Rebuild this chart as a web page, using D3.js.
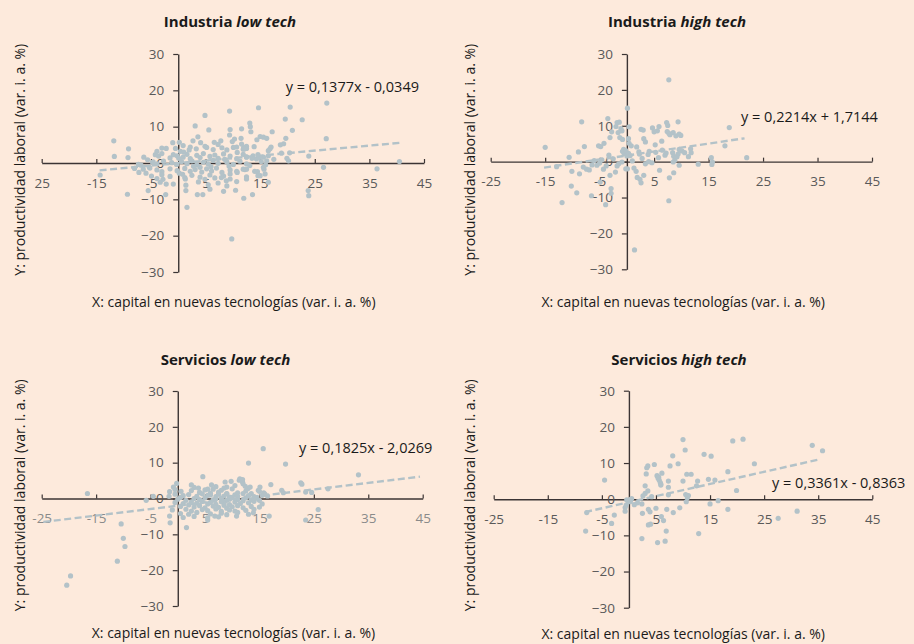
<!DOCTYPE html>
<html>
<head>
<meta charset="utf-8">
<script src="https://cdn.jsdelivr.net/npm/d3@7"></script>
<style>
  body { margin: 0; background: #fdeadc; }
  svg { display: block; }
</style>
</head>
<body>
<svg id="chart" width="914" height="644"></svg>
<script>
// ---- data ----
const xTicks = [-25, -15, -5, 5, 15, 25, 35, 45];
const yTicks = [-30, -20, -10, 0, 10, 20, 30];
const xTickLabels = [
  ["25", "-15", "-5", "5", "15", "25", "35", "45"],
  ["-25", "-15", "-5", "5", "15", "25", "35", "45"],
  ["-25", "-15", "-5", "5", "15", "25", "35", "45"],
  ["-25", "-15", "-5", "5", "15", "25", "35", "45"]
];
const sectors = ["Industria", "Industria", "Servicios", "Servicios"];
const techLevels = ["low tech", "high tech", "low tech", "high tech"];
const equations = ["y = 0,1377x - 0,0349", "y = 0,2214x + 1,7144", "y = 0,1825x - 2,0269", "y = 0,3361x - 0,8363"];
const slopes = [0.1377, 0.2214, 0.1825, 0.3361];
const intercepts = [-0.0349, 1.7144, -2.0269, -0.8363];
const trendFrom = [-14.4, -15.2, -24.7, -8.1];
const trendTo = [40.6, 21.6, 44.5, 35.4];
const xTitle = "X: capital en nuevas tecnologías (var. i. a. %)";
const yTitle = "Y: productividad laboral (var. i. a. %)";

const industriaLow = [
  [-14.3,-3.3],[-11.8,6.1],[-11.7,1.8],[-9.1,3.9],[-9.2,1.5],[-9.3,-8.6],[-7.3,-0.4],[-7.2,-2.6],[-6.3,1.6],
  [-6.4,-1.7],[-5.5,-7.6],[-5.3,-1.1],[-4.7,0.2],[-2.3,-8.7],[-8.0,-1.5],[-6.8,-0.6],[-5.9,-2.8],[-5.6,0.9],
  [-4.2,2.3],[-2.8,-4.5],[-2.2,-5.8],
  [-3.9,3.2],[-3.0,4.1],[-2.2,4.0],[-1.0,5.6],[0.2,5.7],[0.9,4.8],[2.2,4.4],[3.3,3.9],[4.9,4.6],[5.2,4.3],
  [6.4,3.7],[7.3,5.1],[8.0,4.2],[8.9,3.6],[10.7,4.4],[11.9,3.8],[12.5,4.6],
  [-3.6,1.9],[-3.0,2.6],[-1.5,1.4],[-0.9,2.3],[-0.2,2.0],[0.9,1.6],[1.6,2.4],[2.2,1.2],[3.4,2.1],[4.0,1.5],
  [4.6,2.6],[5.8,1.8],[6.7,2.2],[7.3,1.3],[8.3,2.5],[9.5,1.9],[10.7,1.2],[11.9,2.4],[12.5,1.7],
  [-4.6,0.3],[-3.9,-0.2],[-2.7,0.5],[-1.2,0.1],[-0.3,-0.4],[0.6,0.4],[1.6,-0.2],[2.5,0.6],[3.4,-0.5],[4.6,0.2],
  [5.5,-0.3],[6.4,0.7],[7.3,-0.1],[8.9,0.3],[10.1,-0.4],[11.3,0.5],[12.5,-0.2],
  [-5.2,-1.4],[-3.9,-1.9],[-3.0,-2.4],[-1.5,-1.6],[-0.2,-2.1],[1.2,-1.5],[2.2,-2.3],[3.1,-1.8],[4.3,-2.5],
  [5.2,-1.6],[6.1,-2.2],[7.0,-1.4],[8.0,-2.6],[9.5,-1.9],[10.7,-2.3],[12.2,-1.8],
  [-4.9,-3.6],[-3.9,-4.3],[-3.0,-3.2],[-1.5,-3.7],[1.2,-4.0],[2.5,-3.4],[4.0,-3.9],[4.9,-4.5],[5.8,-3.3],
  [6.7,-4.1],[8.3,-3.6],[9.5,-4.4],[12.5,-3.8],
  [-3.3,-5.3],[-0.9,-5.8],[3.7,-5.2],[5.5,-6.0],[7.3,-5.5],[8.9,-6.3],[10.7,-5.1],
  [3.1,10.2],[3.6,7.2],[2.7,6.1],[4.9,13.1],[5.6,9.1],[9.4,14.3],[9.5,9.2],[9.4,7.7],[11.6,9.4],[11.5,6.8],
  [13.1,11.0],[13.2,10.0],[13.3,8.6],[14.7,15.2],[15.0,7.3],[15.6,7.1],[16.2,6.8],[14.4,6.4],[17.2,8.6],
  [19.6,12.1],[20.5,15.4],[20.9,9.0],[22.7,11.9],[19.7,6.8],[18.7,5.0],[19.3,5.3],[27.2,16.5],[27.1,6.7],
  [12.0,4.3],[12.5,4.0],[16.8,3.9],[16.5,3.4],[20.4,2.8],[18.9,2.7],[19.9,1.3],[20.2,0.6],[23.9,1.9],
  [1.3,-4.4],[1.4,-6.1],[1.4,-7.6],[1.6,-12.2],[3.5,-8.7],[4.5,-8.7],[5.8,-7.2],[8.3,-7.8],[9.8,-20.9],
  [10.5,-7.5],[12.0,-9.7],[13.6,-8.7],[23.8,-7.6],[23.9,-9.0],[26.6,-1.2],[36.4,-1.6],[40.5,0.4],
  [12.5,-1.7],[12.5,-4.4],[14.5,-2.4],[15.0,-3.5],[15.7,-1.7],[16.5,-5.3],
  [10.1,4.3],[10.8,2.9],[11.6,5.2],[12.2,3.9],[12.5,1.6],[13.7,2.0],[14.3,1.1],[14.6,2.3],[15.6,1.6],
  [16.2,0.6],[16.5,2.0],[10.8,-2.6],[11.9,-1.7],[13.1,-0.7],[14.0,-2.3],[14.6,-3.5],[15.6,-1.2],[15.9,-3.0],
  [9.5,-3.0],[8.8,-4.9],[7.9,-4.0],[14.8,1.5],[15.2,0.4],[13.5,1.3],[17.5,1.0],[16.0,-0.5],[0.4,3.2],
  [1.0,3.0],[-0.5,4.0],[2.0,3.6],[0.2,-2.8],[0.8,-3.1],[7.8,6.1],[6.6,5.7],[4.1,5.6],[9.9,5.9],[8.5,1.0],
  [9.3,-0.8],[6.0,-1.0],[4.0,-1.2],[2.8,-0.9],[0.1,1.3],[10.3,6.6],[13.9,4.5],[17.0,4.4]
];

const industriaHigh = [
  [7.7,22.8],[0.1,14.9],[-15.0,4.0],[-8.3,11.1],[-11.9,-11.4],[-10.2,-6.8],[-9.2,-8.7],[-6.5,-9.5],[-3.9,-12.0],
  [-2.9,-7.5],[-2.9,-8.8],[1.4,-24.6],[7.7,-10.9],[-10.6,1.2],[-8.9,2.7],[-7.8,4.2],[-12.9,-1.4],[-10.1,-2.7],
  [-8.7,-3.4],[-8.0,-1.5],[-7.4,-2.1],[-6.9,-2.3],[-6.4,-0.9],[-6.0,0.3],[-5.2,4.4],[-4.8,4.2],[-4.2,5.1],
  [-4.9,-5.7],[-4.3,-2.1],[-3.8,-1.2],[-3.5,12.0],[-3.1,-3.8],[-3.1,6.7],[-2.8,8.3],[-2.0,9.8],[-1.8,10.9],
  [-1.4,11.0],[-1.6,8.1],[-1.3,6.7],[-0.8,6.2],[-1.1,9.2],[-0.9,8.6],[-2.1,-2.9],[-1.8,-1.2],[-0.9,-0.1],
  [-0.5,2.5],[-0.6,3.4],[-0.3,3.0],[0.4,9.7],[0.3,6.4],[0.4,5.1],[-0.2,-2.0],[0.1,-2.0],[-0.8,2.9],[-0.5,2.3],
  [-0.2,3.1],[0.0,1.6],[0.3,2.3],[0.6,1.7],[0.8,4.4],[1.3,-1.8],[1.7,-2.7],[1.9,-4.4],[2.4,-4.9],[2.6,-5.9],
  [2.2,2.7],[2.3,2.1],[2.6,9.0],[3.0,8.8],[3.1,6.4],[3.4,5.5],[3.1,-3.8],[3.4,-0.6],[3.9,2.0],[4.1,2.9],
  [4.6,-0.3],[4.7,9.4],[5.0,8.3],[5.9,9.8],[5.6,8.6],[5.2,4.7],[5.8,1.1],[6.0,-2.4],[6.4,5.7],[7.0,1.8],
  [7.3,10.9],[7.5,10.1],[7.4,8.4],[7.7,7.9],[7.9,7.5],[7.8,-4.5],[8.5,8.1],[9.0,7.2],[9.4,11.1],[9.6,7.7],
  [9.9,7.3],[8.4,2.5],[8.6,1.5],[8.8,0.4],[9.2,1.4],[9.4,2.1],[9.6,3.4],[10.1,3.0],[10.6,2.5],[8.5,-0.1],
  [8.6,-3.1],[9.6,-1.0],[11.7,3.6],[11.8,2.5],[11.3,1.4],[13.1,-0.7],[15.5,1.1],[15.7,-0.1],[15.6,-0.8],
  [18.0,4.4],[18.8,9.5],[22.0,1.1],[-5.5,-1.0],[-5.0,-0.4],[-4.6,0.5],[-2.5,0.8],[-1.5,-0.6],[1.0,0.2],
  [2.8,0.9],[4.0,0.0],[-3.3,1.8],[1.8,4.1],[6.5,3.2],[7.2,2.4],[5.3,2.6]
];

const serviciosLow = [
  [-16.6,1.4],[-5.8,-0.5],[-4.5,0.6],[-10.4,-7.1],[-10.0,-11.1],[-9.7,-13.4],[-11.1,-17.5],[-19.7,-21.6],
  [-20.4,-24.2],[-1.4,-6.8],[-1.6,0.6],[-0.2,4.2],[-0.5,2.5],[1.6,-8.1],[4.6,6.1],[5.5,-6.0],[15.7,13.9],
  [13.0,9.9],[19.8,9.6],[33.2,6.6],[11.4,5.5],[11.9,4.6],[8.7,4.6],[9.0,3.2],[22.6,4.4],[22.8,4.0],[17.1,3.9],
  [19.1,2.3],[19.4,1.6],[23.5,1.8],[24.6,1.7],[27.6,2.7],[15.1,3.2],[14.8,2.3],[15.8,1.6],[16.8,-4.9],
  [23.5,-6.0],[25.8,-3.1],[10.8,-4.9],[6.8,-4.9],[13.9,-4.0],[12.9,2.8],[13.3,3.2],[11.3,5.1],[11.9,5.3],
  [3.0,3.1],[5.5,2.6],[7.0,3.3],[8.5,2.9],[10.5,3.6],[12.0,4.1],
  [-1.5,1.9],[2.5,2.2],[4.0,1.7],[5.0,2.4],[6.0,1.5],[6.5,2.6],[7.5,1.8],[8.0,2.3],[9.0,1.4],[10.0,2.7],
  [11.0,1.6],[12.5,2.1],[13.5,1.4],[15.0,2.0],[16.0,1.2],
  [-0.5,1.2],[1.0,0.8],[2.0,1.1],[3.5,0.6],[4.5,1.3],[5.5,0.9],[6.0,1.0],[7.0,0.5],[7.5,1.2],[8.5,0.7],
  [9.0,1.3],[9.5,0.4],[10.5,1.0],[11.0,0.6],[12.0,1.4],[13.0,0.8],[14.0,0.5],[15.5,0.9],[16.5,0.7],
  [0.0,-0.2],[0.5,0.3],[1.5,-0.5],[3.0,0.0],[4.0,-0.3],[5.0,0.2],[6.5,-0.4],[7.0,-0.1],[8.0,0.1],[9.0,-0.5],
  [9.5,-0.2],[10.0,0.3],[11.0,-0.3],[12.0,-0.6],[12.5,0.2],[13.5,-0.4],[14.5,0.1],[15.0,-0.5],
  [-0.5,-1.1],[1.0,-1.4],[2.5,-0.9],[3.5,-1.3],[4.5,-0.8],[5.5,-1.5],[6.0,-1.1],[7.0,-1.6],[8.0,-0.9],
  [8.5,-1.3],[9.5,-1.7],[10.5,-1.0],[11.5,-1.4],[13.0,-1.2],[14.0,-0.8],[15.5,-1.5],
  [0.5,-2.2],[2.0,-1.8],[3.0,-2.4],[4.0,-2.0],[5.0,-2.6],[6.5,-2.1],[7.5,-2.5],[8.5,-1.9],[9.0,-2.7],
  [10.0,-2.3],[11.0,-2.0],[12.0,-2.6],[13.5,-2.2],[15.0,-2.4],
  [-1.0,-3.2],[1.5,-3.0],[2.5,-3.5],[4.5,-3.1],[5.5,-3.4],[7.0,-2.9],[8.0,-3.6],[9.5,-3.2],[10.5,-3.5],
  [12.5,-3.3],[14.0,-3.0],
  [0.5,-4.2],[2.0,-4.4],[3.5,-3.9],[6.0,-4.3],[8.0,-4.1],[9.0,-4.5],[11.0,-3.9],[13.0,-4.4],
  [-1.5,-4.9],[1.0,-5.3],[3.0,-5.0],[5.5,-5.4],[7.5,-5.1],
  [2.5,3.8],[3.8,2.9],[6.2,3.8],[9.8,4.8],[12.4,3.4],[-0.8,3.2],[0.6,2.0]
];

const serviciosHigh = [
  [-7.8,-3.7],[-8.0,-8.8],[-4.5,5.3],[-3.2,-6.7],[-2.7,-4.4],[-0.7,-2.3],[-0.7,-3.3],[-0.4,-0.2],[0.5,0.2],
  [0.2,-0.7],[2.4,-1.3],[2.5,-3.9],[2.6,0.9],[3.0,1.6],[3.0,3.7],[3.2,7.0],[3.3,8.7],[3.5,9.2],[3.5,2.3],
  [3.6,-2.8],[3.9,-3.5],[3.6,-7.1],[4.0,-6.9],[2.4,-10.9],[4.2,0.7],[4.7,9.6],[5.0,-2.5],[5.3,-12.0],
  [5.2,6.5],[5.5,6.1],[5.6,5.3],[5.8,4.6],[5.9,3.9],[5.4,5.8],[6.1,7.2],[5.9,4.2],[6.0,-4.8],[6.4,-5.9],
  [6.9,-8.8],[6.7,-11.6],[7.0,-2.8],[7.3,5.0],[7.3,3.3],[7.3,1.2],[7.6,9.2],[8.1,12.0],[8.2,-3.7],[9.1,9.8],
  [9.4,-2.4],[10.0,5.0],[10.4,13.6],[10.0,16.5],[10.7,6.9],[11.5,6.9],[10.5,1.3],[10.6,-0.7],[10.8,0.4],
  [11.0,1.0],[12.7,5.0],[12.5,3.7],[12.9,-9.5],[13.9,12.4],[15.2,11.9],[14.7,5.5],[15.0,-1.3],[15.9,5.3],
  [16.5,-0.4],[18.3,7.6],[18.3,-2.8],[19.2,16.1],[19.9,2.4],[21.1,16.6],[23.2,9.8],[27.6,-5.3],[31.1,-3.3],
  [33.9,14.9],[35.8,13.4],[1.6,-1.0],[1.0,-1.5],[-0.5,-1.6],[0.3,-0.1]
];

const panelData = [industriaLow, industriaHigh, serviciosLow, serviciosHigh];

// ---- layout (pixel positions of each small chart) ----
const layout = [
  { x0: 41.7, x1: 424, yTop: 54, yBot: 272, titleX: 230, titleY: 26.7, yLabX: 25, yLabY: 159.7, xLabX: 233.8, xLabY: 306.7, eqX: 285.7, eqY: 92, tickColor: "#595959" },
  { x0: 490.7, x1: 872, yTop: 54, yBot: 269.3, titleX: 677, titleY: 26.7, yLabX: 474.5, yLabY: 159.7, xLabX: 683.2, xLabY: 306.7, eqX: 741, eqY: 122.3, tickColor: "#595959" },
  { x0: 41.7, x1: 422.7, yTop: 391, yBot: 606, titleX: 225.5, titleY: 365.3, yLabX: 25, yLabY: 495.3, xLabX: 233.5, xLabY: 638.3, eqX: 299, eqY: 452.7, tickColor: "#8a8a8a" },
  { x0: 493.7, x1: 872.3, yTop: 390.7, yBot: 607.7, titleX: 679, titleY: 364.7, yLabX: 474.5, yLabY: 495.3, xLabX: 683.2, xLabY: 638.7, eqX: 772, eqY: 488, tickColor: "#595959" }
];

const font = "'Open Sans', 'Noto Sans', sans-serif";
const dotColor = "#b3c2c8";
const axisColor = "#3b3434";

const svg = d3.select("#chart");
svg.append("rect").attr("width", 914).attr("height", 644).attr("fill", "#fdeadc");

panelData.forEach(function (pts, i) {
  const L = layout[i];
  const x = d3.scaleLinear().domain([-25, 45]).range([L.x0, L.x1]);
  const y = d3.scaleLinear().domain([-30, 30]).range([L.yBot, L.yTop]);
  const g = svg.append("g");

  // title: sector in bold, tech level in bold italic
  const title = g.append("text")
    .attr("x", L.titleX).attr("y", L.titleY)
    .attr("text-anchor", "middle")
    .attr("font-family", font).attr("font-size", 15).attr("font-weight", 700)
    .attr("fill", "#1a1a1a");
  title.append("tspan").text(sectors[i] + " ");
  title.append("tspan").attr("font-style", "italic").text(techLevels[i]);

  // x axis through y = 0, ticks pointing up
  const xAxis = g.append("g")
    .attr("transform", `translate(0,${y(0)})`)
    .call(d3.axisBottom(x)
      .tickValues(xTicks)
      .tickSize(-4)
      .tickSizeOuter(0)
      .tickPadding(15)
      .tickFormat((d, j) => xTickLabels[i][j]));

  // y axis through x = 0
  const yAxis = g.append("g")
    .attr("transform", `translate(${x(0)},0)`)
    .call(d3.axisLeft(y)
      .tickValues(yTicks)
      .tickSize(5)
      .tickSizeOuter(0)
      .tickPadding(9));

  [xAxis, yAxis].forEach(a => {
    a.attr("font-family", font).attr("font-size", 13.5);
    a.select(".domain").attr("stroke", axisColor).attr("stroke-width", 1.4);
    a.selectAll(".tick line").attr("stroke", axisColor).attr("stroke-width", 1.2);
  });
  xAxis.selectAll(".tick text").attr("fill", L.tickColor);
  yAxis.selectAll(".tick text").attr("fill", "#595959");

  // points
  g.append("g")
    .selectAll("circle")
    .data(pts)
    .join("circle")
      .attr("cx", d => x(d[0]))
      .attr("cy", d => y(d[1]))
      .attr("r", 2.6)
      .attr("fill", dotColor);

  // linear trend line
  const line = d3.line().x(d => x(d)).y(d => y(slopes[i] * d + intercepts[i]));
  g.append("path")
    .datum([trendFrom[i], trendTo[i]])
    .attr("d", line)
    .attr("fill", "none")
    .attr("stroke", dotColor)
    .attr("stroke-width", 2.4)
    .attr("stroke-dasharray", "7,3.5");

  g.append("text")
    .attr("x", L.eqX).attr("y", L.eqY)
    .attr("font-family", font).attr("font-size", 14.5)
    .attr("fill", "#1a1a1a")
    .text(equations[i]);

  // axis titles
  g.append("text")
    .attr("x", L.xLabX).attr("y", L.xLabY)
    .attr("text-anchor", "middle")
    .attr("font-family", font).attr("font-size", 14)
    .attr("fill", "#1a1a1a")
    .text(xTitle);

  g.append("text")
    .attr("transform", `translate(${L.yLabX},${L.yLabY}) rotate(-90)`)
    .attr("text-anchor", "middle")
    .attr("font-family", font).attr("font-size", 14)
    .attr("fill", "#1a1a1a")
    .text(yTitle);
});
</script>
</body>
</html>
